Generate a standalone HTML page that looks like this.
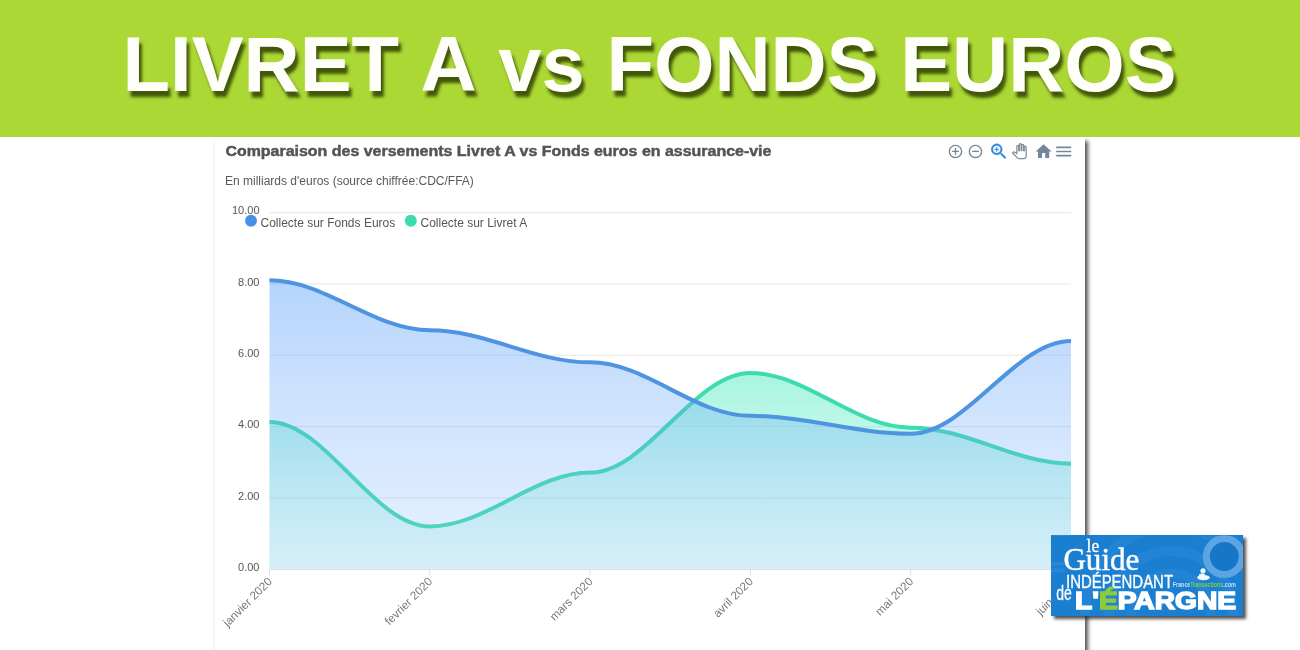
<!DOCTYPE html>
<html><head><meta charset="utf-8"><title>LIVRET A vs FONDS EUROS</title>
<style>
html,body{margin:0;padding:0;background:#fff;}
body{width:1300px;height:650px;overflow:hidden;position:relative;font-family:"Liberation Sans",sans-serif;}
#banner{position:absolute;left:0;top:0;width:1300px;height:137px;background:#abd834;}
#btitle{position:absolute;left:0;top:0;width:1300px;height:137px;}
#card{position:absolute;left:214px;top:137px;width:871px;height:560px;background:#fff;box-shadow:3px 4px 4px #545454;border-left:1px solid #f6f6f6;box-sizing:border-box;}
#chart{position:absolute;left:0;top:0;width:1300px;height:650px;will-change:transform;}
.yl{font-family:"Liberation Sans",sans-serif;font-size:11px;fill:#555;}
.xl{font-family:"Liberation Sans",sans-serif;font-size:11.7px;fill:#777;}
.lg{font-family:"Liberation Sans",sans-serif;font-size:12px;fill:#555;}
#logo{position:absolute;left:1051px;top:535.3px;width:192px;height:80.3px;background:#1b7fd1;box-shadow:3px 3px 3px rgba(40,40,40,.8);overflow:hidden;}
</style></head><body>
<div id="banner"></div>
<div id="card"></div>
<div id="logo"></div>
<svg id="chart" width="1300" height="650" viewBox="0 0 1300 650">
<defs>
<linearGradient id="gb" x1="0" y1="0" x2="0" y2="1" gradientUnits="objectBoundingBox">
<stop offset="0" stop-color="#3d8ef5" stop-opacity="0.38"/><stop offset="1" stop-color="#8fc0ff" stop-opacity="0.22"/></linearGradient>
<linearGradient id="gg" x1="0" y1="0" x2="0" y2="1">
<stop offset="0" stop-color="#3be9b8" stop-opacity="0.45"/><stop offset="1" stop-color="#9ff0dc" stop-opacity="0.22"/></linearGradient>
<filter id="ts" x="-5%" y="-20%" width="110%" height="150%"><feGaussianBlur stdDeviation="1.7"/></filter>
</defs>
<!-- banner title -->
<g font-family="Liberation Sans, sans-serif" font-weight="bold" font-size="77.75" style="font-kerning:none">
<text id="bt2" x="649.6" y="94" text-anchor="middle" fill="#2c3a06" fill-opacity="0.82" filter="url(#ts)" transform="translate(3,3)">LIVRET A vs FONDS EUROS</text>
<text id="bt" x="649.6" y="91" text-anchor="middle" fill="#fffffa">LIVRET A vs FONDS EUROS</text>
</g>
<!-- chart titles -->
<text id="ctitle" x="225.4" y="156.0" font-family="Liberation Sans, sans-serif" font-weight="bold" font-size="14" fill="#545458" stroke="#545458" stroke-width="0.45" textLength="546" lengthAdjust="spacingAndGlyphs">Comparaison des versements Livret A vs Fonds euros en assurance-vie</text>
<text id="csub" x="225" y="184.7" font-family="Liberation Sans, sans-serif" font-size="12" fill="#5a5a5a">En milliards d'euros (source chiffrée:CDC/FFA)</text>
<!-- grid -->
<line x1="269.5" x2="1071" y1="497.9" y2="497.9" stroke="#e6e6e6" stroke-width="1"/><line x1="269.5" x2="1071" y1="426.6" y2="426.6" stroke="#e6e6e6" stroke-width="1"/><line x1="269.5" x2="1071" y1="355.2" y2="355.2" stroke="#e6e6e6" stroke-width="1"/><line x1="269.5" x2="1071" y1="283.9" y2="283.9" stroke="#e6e6e6" stroke-width="1"/><line x1="269.5" x2="1071" y1="212.6" y2="212.6" stroke="#e6e6e6" stroke-width="1"/>
<line x1="269.5" x2="1071" y1="569.5" y2="569.5" stroke="#e0e0e0" stroke-width="1"/>
<line x1="269.5" x2="269.5" y1="569.5" y2="575.5" stroke="#e0e0e0" stroke-width="1"/><line x1="429.8" x2="429.8" y1="569.5" y2="575.5" stroke="#e0e0e0" stroke-width="1"/><line x1="590.1" x2="590.1" y1="569.5" y2="575.5" stroke="#e0e0e0" stroke-width="1"/><line x1="750.4" x2="750.4" y1="569.5" y2="575.5" stroke="#e0e0e0" stroke-width="1"/><line x1="910.7" x2="910.7" y1="569.5" y2="575.5" stroke="#e0e0e0" stroke-width="1"/><line x1="1071.0" x2="1071.0" y1="569.5" y2="575.5" stroke="#e0e0e0" stroke-width="1"/>
<!-- areas -->
<path d="M 269.50 421.92 C 325.61 421.92 373.69 526.41 429.80 526.41 C 485.91 526.41 534.00 472.56 590.10 472.56 C 646.21 472.56 694.29 373.07 750.40 373.07 C 806.50 373.07 854.60 427.63 910.70 427.63 C 966.81 427.63 1014.89 463.65 1071.00 463.65 L 1071.00 569.20 L 269.50 569.20 Z" fill="url(#gg)"/>
<path d="M 269.50 421.92 C 325.61 421.92 373.69 526.41 429.80 526.41 C 485.91 526.41 534.00 472.56 590.10 472.56 C 646.21 472.56 694.29 373.07 750.40 373.07 C 806.50 373.07 854.60 427.63 910.70 427.63 C 966.81 427.63 1014.89 463.65 1071.00 463.65" fill="none" stroke="#3ddcae" stroke-width="4" stroke-linecap="butt"/>
<path d="M 269.50 280.35 C 325.61 280.35 373.69 330.28 429.80 330.28 C 485.91 330.28 534.00 362.37 590.10 362.37 C 646.21 362.37 694.29 415.86 750.40 415.86 C 806.50 415.86 854.60 433.69 910.70 433.69 C 966.81 433.69 1014.89 340.98 1071.00 340.98 L 1071.00 569.20 L 269.50 569.20 Z" fill="url(#gb)"/>
<path d="M 269.50 280.35 C 325.61 280.35 373.69 330.28 429.80 330.28 C 485.91 330.28 534.00 362.37 590.10 362.37 C 646.21 362.37 694.29 415.86 750.40 415.86 C 806.50 415.86 854.60 433.69 910.70 433.69 C 966.81 433.69 1014.89 340.98 1071.00 340.98" fill="none" stroke="#4f94e0" stroke-width="4" stroke-linecap="butt"/>
<text x="259.5" y="571.0" text-anchor="end" class="yl">0.00</text><text x="259.5" y="499.7" text-anchor="end" class="yl">2.00</text><text x="259.5" y="428.4" text-anchor="end" class="yl">4.00</text><text x="259.5" y="357.0" text-anchor="end" class="yl">6.00</text><text x="259.5" y="285.7" text-anchor="end" class="yl">8.00</text><text x="259.5" y="214.4" text-anchor="end" class="yl">10.00</text>
<text x="272.9" y="582.2" text-anchor="end" class="xl" transform="rotate(-45 272.9 582.2)">janvier 2020</text><text x="433.2" y="582.2" text-anchor="end" class="xl" transform="rotate(-45 433.2 582.2)">fevrier 2020</text><text x="593.5" y="582.2" text-anchor="end" class="xl" transform="rotate(-45 593.5 582.2)">mars 2020</text><text x="753.8" y="582.2" text-anchor="end" class="xl" transform="rotate(-45 753.8 582.2)">avril 2020</text><text x="914.1" y="582.2" text-anchor="end" class="xl" transform="rotate(-45 914.1 582.2)">mai 2020</text><text x="1074.4" y="582.2" text-anchor="end" class="xl" transform="rotate(-45 1074.4 582.2)">juin 2020</text>
<!-- legend -->
<circle cx="251" cy="220.8" r="6" fill="#4a8fe6"/>
<text x="260.5" y="226.5" class="lg">Collecte sur Fonds Euros</text>
<circle cx="410.8" cy="220.8" r="6" fill="#3bdcae"/>
<text x="420.5" y="226.5" class="lg">Collecte sur Livret A</text>
<!-- toolbar -->
<g fill="#74869a">
<g transform="translate(947.4,143.3) scale(0.675)"><path d="M13 7h-2v4H7v2h4v4h2v-4h4v-2h-4V7zm-1-5C6.48 2 2 6.48 2 12s4.48 10 10 10 10-4.48 10-10S17.52 2 12 2zm0 18c-4.41 0-8-3.59-8-8s3.59-8 8-8 8 3.59 8 8-3.59 8-8 8z"/></g>
<g transform="translate(967.4,143.3) scale(0.675)"><path d="M7 11v2h10v-2H7zm5-9C6.48 2 2 6.48 2 12s4.48 10 10 10 10-4.48 10-10S17.52 2 12 2zm0 18c-4.41 0-8-3.59-8-8s3.59-8 8-8 8 3.59 8 8-3.59 8-8 8z"/></g>
<g transform="translate(988.6,141.2) scale(0.855)" fill="#3389dc" stroke="#3389dc" stroke-width="0.35"><path d="M15.5 14h-.79l-.28-.27C15.41 12.59 16 11.11 16 9.5 16 5.91 13.09 3 9.5 3S3 5.91 3 9.5 5.91 16 9.5 16c1.61 0 3.09-.59 4.23-1.57l.27.28v.79l5 4.99L20.49 19l-4.99-5zm-6 0C7.01 14 5 11.99 5 9.5S7.01 5 9.5 5 14 7.01 14 9.5 11.99 14 9.5 14z"/><path d="M12 10h-2v2H9v-2H7V9h2V7h1v2h2v1z"/></g>
<g transform="translate(1011.9,143.7) scale(0.62)" fill="#fff" stroke="#7d8c9b" stroke-width="2"><path d="M23 5.5V20c0 2.2-1.8 4-4 4h-7.3c-1.08 0-2.1-.43-2.85-1.19L1 14.83s1.26-1.23 1.3-1.25c.22-.19.49-.29.79-.29.22 0 .42.06.6.16.04.01 4.31 2.46 4.31 2.46V4c0-.83.67-1.5 1.5-1.5S11 3.17 11 4v7h1V1.5c0-.83.67-1.5 1.5-1.5S15 .67 15 1.5V11h1V2.5c0-.83.67-1.5 1.5-1.5s1.5.67 1.5 1.5V11h1V5.5c0-.83.67-1.5 1.5-1.5s1.5.67 1.5 1.5z"/></g>
<g transform="translate(1034,141.9) scale(0.8)"><path d="M10 20v-6h4v6h5v-8h3L12 3 2 12h3v8z"/></g>
<g transform="translate(1053.7,141.5) scale(0.835)"><path d="M3 18h18v-2H3v2zm0-5h18v-2H3v2zm0-7v2h18V6H3z"/></g>
</g>
<g transform="translate(1051,535.3)">
<rect x="0" y="0" width="192" height="80.3" fill="#1b7fd1"/>
<defs><clipPath id="lc"><rect x="0" y="0" width="192" height="80.5"/></clipPath></defs>
<g clip-path="url(#lc)">
<circle cx="120" cy="78" r="62" fill="none" stroke="#3a95de" stroke-opacity="0.28" stroke-width="10"/>
<circle cx="120" cy="78" r="40" fill="none" stroke="#3a95de" stroke-opacity="0.25" stroke-width="9"/>
<circle cx="120" cy="78" r="86" fill="none" stroke="#3a95de" stroke-opacity="0.22" stroke-width="10"/>
<rect x="0" y="27" width="14" height="3" fill="#4aa0e6" opacity="0.35"/>
<rect x="0" y="33" width="14" height="4" fill="#4aa0e6" opacity="0.3"/>
<circle cx="173.3" cy="21.3" r="14.6" fill="#1876c8"/>
<circle cx="173.3" cy="21.3" r="18" fill="none" stroke="#5ba6e2" stroke-width="7"/>
<text x="35.6" y="16.3" font-family="Liberation Serif, serif" font-size="18" fill="#fff" stroke="#fff" stroke-width="0.35" textLength="12.5" lengthAdjust="spacingAndGlyphs">le</text>
<text x="12.4" y="34.6" font-family="Liberation Serif, serif" font-size="30.5" fill="#fff" stroke="#fff" stroke-width="0.45" textLength="76" lengthAdjust="spacingAndGlyphs">Guide</text>
<text x="15" y="52.9" font-family="Liberation Sans, sans-serif" font-size="18" fill="#fff" stroke="#fff" stroke-width="0.35" textLength="107" lengthAdjust="spacingAndGlyphs">INDÉPENDANT</text>
<text x="5.3" y="64.6" font-family="Liberation Sans, sans-serif" font-size="20" fill="#fff" stroke="#fff" stroke-width="0.3" textLength="15.6" lengthAdjust="spacingAndGlyphs">de</text>
<text x="24.0" y="74.0" font-family="Liberation Sans, sans-serif" font-weight="bold" font-size="24.2" fill="#fff" stroke="#fff" stroke-width="1.5" stroke-linejoin="miter" textLength="161" lengthAdjust="spacingAndGlyphs">L'<tspan fill="#8ecb3a" stroke="#8ecb3a">É</tspan>PARGNE</text>
<text x="121.8" y="52" font-family="Liberation Sans, sans-serif" font-size="6.6" font-weight="bold" fill="#bfe0fa" textLength="63" lengthAdjust="spacingAndGlyphs">France<tspan fill="#7fcb4a">Transactions</tspan>.com</text>
<g fill="#f2f8ff"><circle cx="152" cy="35.5" r="2.6"/><ellipse cx="152.5" cy="42.3" rx="6.3" ry="2.6"/><ellipse cx="151" cy="39.8" rx="3.2" ry="1.6"/></g>
</g>
</g>
</svg>
</body></html>
